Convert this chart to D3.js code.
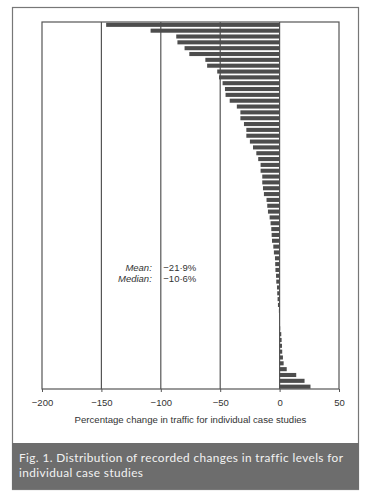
<!DOCTYPE html>
<html>
<head>
<meta charset="utf-8">
<script src="https://cdn.jsdelivr.net/npm/d3@7"></script>
<style>
  html, body { margin: 0; padding: 0; background: #fff; }
  svg { display: block; }
  .tick-label { font-family: "Liberation Sans", Arial, sans-serif; font-size: 9.5px; fill: #333; }
  .axis-title { font-family: "Liberation Sans", Arial, sans-serif; font-size: 9.6px; fill: #333; }
  .stat { font-family: "Liberation Sans", Arial, sans-serif; font-size: 9.5px; fill: #333; }
  .caption { font-family: Lato, "Open Sans", sans-serif; font-size: 11.8px; fill: #f2f2f2; letter-spacing: 0.4px; }
</style>
</head>
<body>
<div id="chart"></div>
<script>
  // Percentage change in traffic, one value per case study, sorted as in the figure.
  var changes = [
    -146, -108.6, -87, -86, -80, -76, -62.5, -61, -52.5, -51,
    -48, -46, -45.5, -42, -36, -33, -33, -30, -28, -28,
    -25, -22.4, -19.6, -18, -16, -16, -14.6, -14.6, -14, -13.2,
    -11, -10.4, -9.8, -8.4, -7.6, -7, -6.7, -6.4, -5.3, -4.8,
    -3.9, -3.7, -3.5, -3, -2.8, -2.2, -2, -1.7, -1.4, -0.6,
    -0.2, 0.2, 0.5, 1.4, 1.7, 2, 2.2, 2.8, 3.4, 6,
    14, 21, 26
  ];
  var cases = d3.range(1, changes.length + 1);
  var xTicks = [-200, -150, -100, -50, 0, 50];
  var gridValues = [-150, -100, -50, 0];
  var statNames = ['Mean:', 'Median:'];
  var statValues = ['\u221221\u00b79%', '\u221210\u00b76%'];
  var axisTitle = 'Percentage change in traffic for individual case studies';
  var captionLines = [
    'Fig. 1. Distribution of recorded changes in traffic levels for',
    'individual case studies'
  ];

  var width = 371;
  var height = 491;
  var plot = { left: 42, right: 339, top: 22, bottom: 389 };

  var svg = d3.select('#chart')
    .append('svg')
    .attr('width', width)
    .attr('height', height);

  // Outer frame of the figure.
  svg.append('rect')
    .attr('x', 12.5)
    .attr('y', 7.5)
    .attr('width', 346)
    .attr('height', 482)
    .attr('fill', '#fff')
    .attr('stroke', '#777')
    .attr('stroke-width', 1.2);

  var xScale = d3.scaleLinear().domain([-200, 50]).range([plot.left, plot.right]);
  var yScale = d3.scaleBand()
    .domain(cases)
    .range([plot.top + 0.5, plot.bottom])
    .paddingInner(0.3)
    .paddingOuter(0.05);

  // Vertical reference lines.
  svg.append('g')
    .selectAll('line')
    .data(gridValues)
    .enter().append('line')
    .attr('x1', function(d) { return xScale(d); })
    .attr('x2', function(d) { return xScale(d); })
    .attr('y1', plot.top)
    .attr('y2', plot.bottom)
    .attr('stroke', '#555')
    .attr('stroke-width', 1.2);

  // Bars.
  svg.append('g')
    .selectAll('rect')
    .data(changes)
    .enter().append('rect')
    .attr('x', function(d) { return xScale(Math.min(0, d)); })
    .attr('y', function(d, i) { return yScale(cases[i]); })
    .attr('width', function(d) { return Math.abs(xScale(d) - xScale(0)); })
    .attr('height', yScale.bandwidth())
    .attr('fill', '#4d4d4d');

  // Plot frame.
  svg.append('rect')
    .attr('x', plot.left)
    .attr('y', plot.top)
    .attr('width', plot.right - plot.left)
    .attr('height', plot.bottom - plot.top)
    .attr('fill', 'none')
    .attr('stroke', '#555')
    .attr('stroke-width', 1.2);

  // x-axis ticks and labels.
  var xAxis = d3.axisBottom(xScale)
    .tickValues(xTicks)
    .tickSize(3)
    .tickFormat(function(d) { return d < 0 ? '\u2212' + Math.abs(d) : String(d); });

  var axisG = svg.append('g')
    .attr('transform', 'translate(0,' + plot.bottom + ')')
    .call(xAxis);
  axisG.select('.domain').remove();
  axisG.selectAll('.tick line').attr('stroke', '#555');
  axisG.selectAll('.tick text')
    .attr('class', 'tick-label')
    .attr('font-family', null)
    .attr('font-size', null)
    .attr('fill', null)
    .attr('y', 10);

  svg.append('text')
    .attr('class', 'axis-title')
    .attr('text-anchor', 'middle')
    .attr('x', (plot.left + plot.right) / 2)
    .attr('y', 423)
    .text(axisTitle);

  // Mean and median annotation.
  svg.append('g')
    .selectAll('text')
    .data(statNames)
    .enter().append('text')
    .attr('class', 'stat')
    .attr('text-anchor', 'end')
    .attr('font-style', 'italic')
    .attr('x', xScale(-100) - 9)
    .attr('y', function(d, i) { return 271 + i * 11; })
    .text(function(d) { return d; });

  svg.append('g')
    .selectAll('text')
    .data(statValues)
    .enter().append('text')
    .attr('class', 'stat')
    .attr('x', xScale(-100) + 2.5)
    .attr('y', function(d, i) { return 271 + i * 11; })
    .text(function(d) { return d; });

  // Caption box.
  svg.append('rect')
    .attr('x', 12)
    .attr('y', 443)
    .attr('width', 347)
    .attr('height', 46)
    .attr('fill', '#6d6d6d');

  svg.append('g')
    .selectAll('text')
    .data(captionLines)
    .enter().append('text')
    .attr('class', 'caption')
    .attr('x', 19)
    .attr('y', function(d, i) { return 462 + i * 15; })
    .text(function(d) { return d; });
</script>
</body>
</html>
